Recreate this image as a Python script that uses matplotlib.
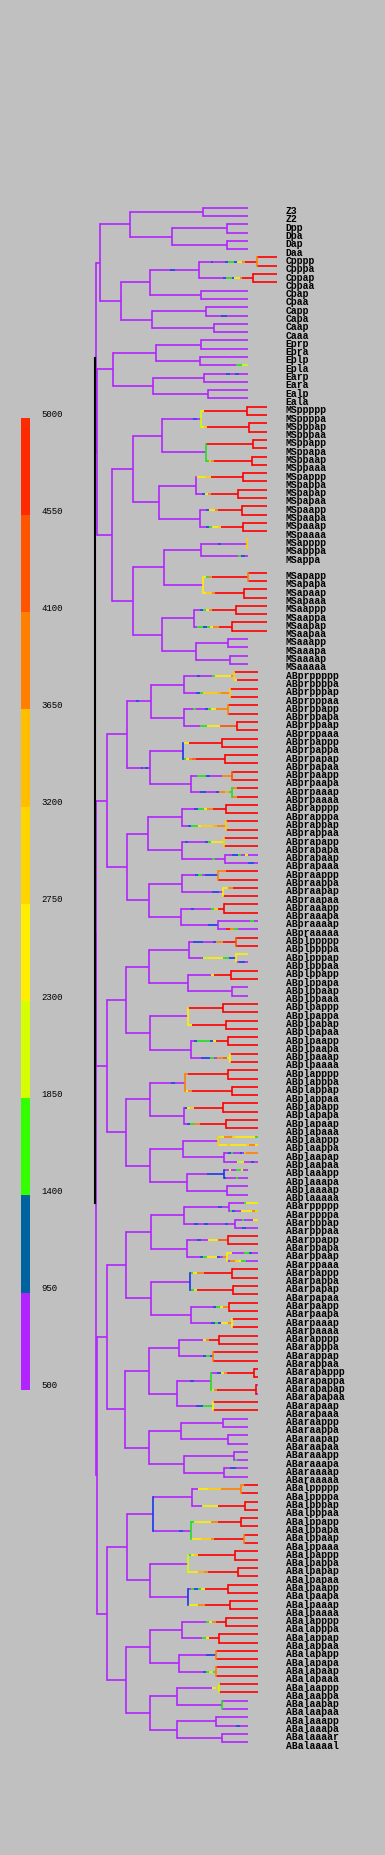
import matplotlib.pyplot as plt
import matplotlib.transforms as mtransforms
import numpy as np
from matplotlib.collections import LineCollection
from matplotlib.colors import BoundaryNorm, ListedColormap

# colour bar: expression scale
bar_bounds = [500, 950, 1400, 1850, 2300, 2750, 3200, 3650, 4100, 4550, 5000]
bar_colors = ['#b124ff', '#00629e', '#33ff00', '#d5ff00', '#ffee00',
              '#ffd500', '#ffbf00', '#ff8000', '#ff5500', '#ff2b00']
# colours drawn on the tree for expression levels 0..9 (same bins as the bar)
tree_colors = ['#b124ff', '#1a36f0', '#22dd22', '#ccff00', '#ffee00',
               '#ffd000', '#ffb000', '#ff8000', '#ff5000', '#ff0000']

# leaves from top to bottom (None = empty row)
leaves = [
    'Z3', 'Z2', 'Dpp', 'Dpa', 'Dap', 'Daa',
    'Cpppp', 'Cpppa', 'Cppap', 'Cppaa', 'Cpap', 'Cpaa', 'Capp', 'Capa', 'Caap', 'Caaa',
    'Eprp', 'Epra', 'Eplp', 'Epla', 'Earp', 'Eara', 'Ealp', 'Eala',
    'MSppppp', 'MSppppa', 'MSpppap', 'MSpppaa', 'MSppapp', 'MSppapa', 'MSppaap', 'MSppaaa',
    'MSpappp', 'MSpappa', 'MSpapap', 'MSpapaa', 'MSpaapp', 'MSpaapa', 'MSpaaap', 'MSpaaaa',
    'MSapppp', 'MSapppa', 'MSappa', None,
    'MSapapp', 'MSapapa', 'MSapaap', 'MSapaaa', 'MSaappp', 'MSaappa', 'MSaapap', 'MSaapaa',
    'MSaaapp', 'MSaaapa', 'MSaaaap', 'MSaaaaa',
    'ABprppppp', 'ABprppppa', 'ABprpppap', 'ABprpppaa', 'ABprppapp', 'ABprppapa', 'ABprppaap', 'ABprppaaa',
    'ABprpappp', 'ABprpappa', 'ABprpapap', 'ABprpapaa', 'ABprpaapp', 'ABprpaapa', 'ABprpaaap', 'ABprpaaaa',
    'ABprapppp', 'ABprapppa', 'ABprappap', 'ABprappaa', 'ABprapapp', 'ABprapapa', 'ABprapaap', 'ABprapaaa',
    'ABpraappp', 'ABpraappa', 'ABpraapap', 'ABpraapaa', 'ABpraaapp', 'ABpraaapa', 'ABpraaaap', 'ABpraaaaa',
    'ABplppppp', 'ABplppppa', 'ABplpppap', 'ABplpppaa', 'ABplppapp', 'ABplppapa', 'ABplppaap', 'ABplppaaa',
    'ABplpappp', 'ABplpappa', 'ABplpapap', 'ABplpapaa', 'ABplpaapp', 'ABplpaapa', 'ABplpaaap', 'ABplpaaaa',
    'ABplapppp', 'ABplapppa', 'ABplappap', 'ABplappaa', 'ABplapapp', 'ABplapapa', 'ABplapaap', 'ABplapaaa',
    'ABplaappp', 'ABplaappa', 'ABplaapap', 'ABplaapaa', 'ABplaaapp', 'ABplaaapa', 'ABplaaaap', 'ABplaaaaa',
    'ABarppppp', 'ABarppppa', 'ABarpppap', 'ABarpppaa', 'ABarppapp', 'ABarppapa', 'ABarppaap', 'ABarppaaa',
    'ABarpappp', 'ABarpappa', 'ABarpapap', 'ABarpapaa', 'ABarpaapp', 'ABarpaapa', 'ABarpaaap', 'ABarpaaaa',
    'ABarapppp', 'ABarapppa', 'ABarappap', 'ABarappaa', 'ABarapappp', 'ABarapappa', 'ABarapapap', 'ABarapapaa',
    'ABarapaap', 'ABarapaaa', 'ABaraappp', 'ABaraappa', 'ABaraapap', 'ABaraapaa', 'ABaraaapp', 'ABaraaapa',
    'ABaraaaap', 'ABaraaaaa',
    'ABalppppp', 'ABalppppa', 'ABalpppap', 'ABalpppaa', 'ABalppapp', 'ABalppapa', 'ABalppaap', 'ABalppaaa',
    'ABalpappp', 'ABalpappa', 'ABalpapap', 'ABalpapaa', 'ABalpaapp', 'ABalpaapa', 'ABalpaaap', 'ABalpaaaa',
    'ABalapppp', 'ABalapppa', 'ABalappap', 'ABalappaa', 'ABalapapp', 'ABalapapa', 'ABalapaap', 'ABalapaaa',
    'ABalaappp', 'ABalaappa', 'ABalaapap', 'ABalaapaa', 'ABalaaapp', 'ABalaaapa', 'ABalaaaar', 'ABalaaaal',
]

# time at which each leaf track ends
leaf_end = ([152.7] * 6 + [181.7] * 4 + [152.7] * 14 + [171.7] * 16
            + [152.7] * 3 + [None] + [171.7] * 8 + [152.7] * 4
            + [162.7] * 34 + [152.7] * 2 + [162.7] * 2 + [152.7] * 2 + [162.7] * 20 + [152.7] * 4
            + [162.7] * 26 + [152.7] * 8
            + [162.7] * 26 + [152.7] * 6)

# expression along each leaf branch, one digit per equal piece (digit = bar bin)
leaf_expr = (['0'] * 6 + ['9'] * 4 + ['0'] * 3 + ['00010000'] + ['0'] * 5
             + ['00000023', '0000010100'] + ['0'] * 3
             + ['9'] * 16 + ['4', '4', '00000000000000002110', None] + ['9'] * 8 + ['0'] * 4
             # ABpr
             + ['9', '49999999'] + ['9'] * 12 + ['79999', '79999'] + ['9'] * 6
             + ['0011204000', '0000000110']
             + ['79999', '9', '4799999', '9', '9', '9', '0000000020', '0097200000']
             # ABpl
             + ['9', '9', '4', '0110', '9', '9', '0', '0'] + ['9'] * 16
             + ['34777544444442', '4445444445774', '001200010677777', '0000340010',
                '0040022400', '1000020000', '0', '0']
             # ABar
             + ['0000024444', '2100444475', '0002000044', '0001100000', '9', '9',
                '44000022100', '07754220000']
             + ['9'] * 14 + ['0', '0', '9', '9'] + ['0'] * 5 + ['20000', '0100', '0']
             # ABal
             + ['79999'] + ['9'] * 25 + ['0'] * 3 + ['00000100', '0', '0'])

# division times of the inner cells
div_time = {
    'P0': 0.0, 'AB': 0.7, 'P1': 1.0, 'ABp': 1.0, 'ABa': 1.7, 'EMS': 1.7, 'P2': 5.0,
    'MS': 16.7, 'E': 17.7, 'C': 25.7, 'P3': 35.0, 'P4': 107.7, 'D': 76.7, 'Dp': 132.3, 'Da': 132.3,
    'Cp': 55.0, 'Ca': 56.7, 'Cpp': 104.0, 'Cpa': 105.7, 'Cppp': 161.7, 'Cppa': 158.3,
    'Cap': 110.7, 'Caa': 118.7,
    'Ep': 61.0, 'Ea': 57.7, 'Epr': 105.7, 'Epl': 104.7, 'Ear': 109.0, 'Eal': 113.0,
    'MSp': 37.7, 'MSa': 37.7, 'MSpp': 66.7, 'MSpa': 64.3, 'MSap': 69.0, 'MSaa': 66.7,
    'MSppp': 105.7, 'MSppa': 110.7, 'MSpap': 101.0, 'MSpaa': 105.0,
    'MSapp': 105.7, 'MSapa': 107.7, 'MSaap': 99.0, 'MSaaa': 101.0,
    'MSpppp': 151.7, 'MSpppa': 154.0, 'MSppap': 157.7, 'MSppaa': 156.7,
    'MSpapp': 147.7, 'MSpapa': 143.3, 'MSpaap': 146.7, 'MSpaaa': 147.7,
    'MSappp': 151.7, 'MSapap': 152.7, 'MSapaa': 149.0, 'MSaapp': 140.7, 'MSaapa': 136.7,
    'MSaaap': 133.3, 'MSaaaa': 135.0,
    'ABpr': 12.3, 'ABpl': 11.7, 'ABar': 11.7, 'ABal': 11.7,
    'ABprp': 31.7, 'ABpra': 31.7, 'ABplp': 31.0, 'ABpla': 30.7,
    'ABarp': 30.7, 'ABara': 30.0, 'ABalp': 31.7, 'ABala': 31.0,
    'ABprpp': 55.7, 'ABprpa': 55.0, 'ABprap': 53.3, 'ABpraa': 53.7,
    'ABplpp': 54.3, 'ABplpa': 55.0, 'ABplap': 55.0, 'ABplaa': 55.0,
    'ABarpp': 55.7, 'ABarpa': 55.7, 'ABarap': 54.0, 'ABaraa': 54.0,
    'ABalpp': 57.7, 'ABalpa': 55.0, 'ABalap': 55.0, 'ABalaa': 55.0,
    'ABprppp': 89.3, 'ABprppa': 89.0, 'ABprpap': 87.7, 'ABprpaa': 95.7,
    'ABprapp': 86.7, 'ABprapa': 86.7, 'ABpraap': 86.7, 'ABpraaa': 85.7,
    'ABplppp': 94.3, 'ABplppa': 92.7, 'ABplpap': 92.7, 'ABplpaa': 95.7,
    'ABplapp': 90.0, 'ABplapa': 89.0, 'ABplaap': 87.7, 'ABplaaa': 91.7,
    'ABarppp': 89.0, 'ABarppa': 91.7, 'ABarpap': 95.0, 'ABarpaa': 95.7,
    'ABarapp': 84.0, 'ABarapa': 81.7, 'ABaraap': 85.7, 'ABaraaa': 89.0,
    'ABalppp': 96.7, 'ABalppa': 95.7, 'ABalpap': 92.7, 'ABalpaa': 92.7,
    'ABalapp': 87.3, 'ABalapa': 84.3, 'ABalaap': 82.3, 'ABalaaa': 82.3,
    'ABprpppp': 139.0, 'ABprpppa': 135.0, 'ABprppap': 133.3, 'ABprppaa': 141.7,
    'ABprpapp': 126.7, 'ABprpapa': 130.0, 'ABprpaap': 136.7, 'ABprpaaa': 136.7,
    'ABprappp': 131.0, 'ABprappa': 131.0, 'ABprapap': 129.3, 'ABprapaa': 130.0,
    'ABpraapp': 123.3, 'ABpraapa': 127.7, 'ABpraaap': 129.3, 'ABpraaaa': 123.3,
    'ABplpppp': 141.0, 'ABplpppa': 141.0, 'ABplppap': 135.7, 'ABplppaa': 136.7,
    'ABplpapp': 128.3, 'ABplpapa': 131.0, 'ABplpaap': 133.3, 'ABplpaaa': 135.0,
    'ABplappp': 133.3, 'ABplappa': 136.7, 'ABplapap': 127.7, 'ABplapaa': 131.0,
    'ABplaapp': 123.3, 'ABplaapa': 129.0, 'ABplaaap': 129.0, 'ABplaaaa': 131.7,
    'ABarpppp': 134.3, 'ABarpppa': 140.0, 'ABarppap': 133.3, 'ABarppaa': 131.7,
    'ABarpapp': 136.7, 'ABarpapa': 137.7, 'ABarpaap': 134.3, 'ABarpaaa': 136.7,
    'ABarappp': 124.3, 'ABarappa': 118.3, 'ABarapap': 115.7, 'ABarapaa': 117.7,
    'ABaraapp': 127.7, 'ABaraapa': 132.7, 'ABaraaap': 139.0, 'ABaraaaa': 129.3,
    'ABalpppp': 146.0, 'ABalpppa': 150.0, 'ABalppap': 146.0, 'ABalppaa': 149.0,
    'ABalpapp': 140.0, 'ABalpapa': 142.7, 'ABalpaap': 133.3, 'ABalpaaa': 135.0,
    'ABalappp': 130.7, 'ABalappa': 124.3, 'ABalapap': 121.0, 'ABalapaa': 121.0,
    'ABalaapp': 124.0, 'ABalaapa': 127.3, 'ABalaaap': 120.7, 'ABalaaaa': 127.3,
    'ABarapapp': 159.0, 'ABarapapa': 161.0,
}

# expression along inner branches (others stay at level 0)
branch_expr = {
    'Cpp': '0000100000', 'Cppp': '00001000012213479999', 'Cppa': '00000000012214479999',
    'MSppp': '0000000010', 'MSpppp': '4999999999999999', 'MSpppa': '4599999999999999',
    'MSppap': '9', 'MSppaa': '2579999999999999', 'MSpapp': '4445599999999999',
    'MSpapa': '00147999999999', 'MSpaap': '00144799999999', 'MSpaaa': '00124459999999',
    'MSappp': '0000001000000000', 'MSapap': '427999999999999', 'MSapaa': '45579999999999',
    'MSaapp': '00124799999999', 'MSaapa': '022124779999',
    'ABprpp': '0000100000', 'ABprpppp': '0000100002444447', 'ABprpppa': '000012555556777',
    'ABprppap': '000200012447777', 'ABprppaa': '0000022444488888', 'ABprpa': '0000001010',
    'ABprpapp': '449999999999', 'ABprpapa': '2478999999999', 'ABprpaap': '0022210000777',
    'ABprpaaa': '0001100017762', 'ABprappp': '00001224779999', 'ABprappa': '00122455556777',
    'ABprapap': '0100000124444', 'ABprapaa': '0000000002000', 'ABpraapp': '00001201111',
    'ABpraapa': '000000000110', 'ABpraaap': '0001000002599', 'ABpraaaa': '00000000111',
    'ABplpppp': '01110001779999', 'ABplpppa': '00003344442211', 'ABplppap': '0000000499999',
    'ABplpapp': '9', 'ABplpapa': '49999999', 'ABplpaap': '012222149999',
    'ABplpaaa': '000111207783', 'ABplapp': '0000001000', 'ABplappp': '79999999999999',
    'ABplappa': '47999999999999', 'ABplapap': '145999999999', 'ABplapaa': '0127799999999',
    'ABplaaap': '00000011111',
    'ABarpppp': '000000000100', 'ABarpppa': '000100100000100', 'ABarppap': '000100444888',
    'ABarppaa': '000012444107', 'ABarpapp': '247799999999', 'ABarpapa': '239999999999',
    'ABarpaap': '000000012477', 'ABarpaaa': '000000121447', 'ABarappp': '000000047999',
    'ABarappa': '0000000121', 'ABarapap': '0000100000', 'ABarapapp': '0014799999999',
    'ABarapapa': '37999999999999', 'ABarapaa': '00000011222',
    'ABalpppp': '004445555777777', 'ABalpppa': '0003444499999999', 'ABalppa': '0000000100',
    'ABalppap': '234444779999999', 'ABalppaa': '4445557999999999', 'ABalpapp': '24599999999999',
    'ABalpapa': '444667999999999', 'ABalpaap': '021249999999', 'ABalpaaa': '444779999999',
    'ABalappp': '0000000247999', 'ABalappa': '00000024999', 'ABalapap': '00000000111',
    'ABalapaa': '00000001232', 'ABalaapp': '000000000045',
}

# expression level at each division (vertical bar)
split_expr = {
    'Cppp': '7', 'Cppa': '9',
    'MSppp': '3', 'MSpppp': '9', 'MSpppa': '9', 'MSppa': '2', 'MSppap': '9', 'MSppaa': '9',
    'MSpapp': '9', 'MSpapa': '9', 'MSpaap': '9', 'MSpaaa': '9', 'MSappp': '5', 'MSapa': '4',
    'MSapap': '7', 'MSapaa': '9', 'MSaapp': '9', 'MSaapa': '9',
    'ABprpppp': '5', 'ABprpppa': '5', 'ABprppap': '7', 'ABprppaa': '9', 'ABprpap': '1',
    'ABprpapp': '9', 'ABprpapa': '9', 'ABprpaap': '8', 'ABprpaaa': '2', 'ABprappp': '9',
    'ABprappa': '5', 'ABprapap': '5', 'ABpraapp': '7', 'ABpraapa': '4', 'ABpraaap': '9',
    'ABplpppp': '8', 'ABplpppa': '4', 'ABplppap': '9', 'ABplpap': '4', 'ABplpapp': '9',
    'ABplpapa': '9', 'ABplpaap': '9', 'ABplpaaa': '4', 'ABplapp': '7', 'ABplappp': '9',
    'ABplappa': '9', 'ABplapap': '9', 'ABplapaa': '9', 'ABplaapp': '5', 'ABplaaap': '1',
    'ABarppap': '9', 'ABarppaa': '4', 'ABarpap': '1', 'ABarpapp': '9', 'ABarpapa': '9',
    'ABarpaap': '9', 'ABarpaaa': '4', 'ABarappp': '9', 'ABarappa': '7', 'ABarapap': '2',
    'ABarapapp': '9', 'ABarapapa': '9', 'ABarapaa': '4',
    'ABalpp': '1', 'ABalpppp': '7', 'ABalpppa': '9', 'ABalppa': '2', 'ABalppap': '9',
    'ABalppaa': '7', 'ABalpap': '3', 'ABalpapp': '9', 'ABalpapa': '9', 'ABalpaa': '1',
    'ABalpaap': '9', 'ABalpaaa': '9', 'ABalappp': '9', 'ABalappa': '9', 'ABalapap': '7',
    'ABalapaa': '7', 'ABalaapp': '3', 'ABalaapa': '2',
}

founders = {'AB': 'P0', 'P1': 'P0', 'EMS': 'P1', 'P2': 'P1', 'MS': 'EMS', 'E': 'EMS',
            'C': 'P2', 'P3': 'P2', 'D': 'P3', 'P4': 'P3', 'Z3': 'P4', 'Z2': 'P4'}


def parent(c):
    return founders.get(c, c[:-1])


fig = plt.figure(figsize=(3.85, 18.55), dpi=100, facecolor='#c0c0c0')
ax = fig.add_axes([0, 0, 1, 1])
ax.set_xlim(-95, 290)
ax.set_ylim(198.61, -25.04)
ax.axis('off')

time = dict(div_time)
expr = dict(branch_expr)
row = {}
kids = {}
for i, (name, end, ex) in enumerate(zip(leaves, leaf_end, leaf_expr)):
    if name is None:
        continue
    row[name] = i
    time[name] = end
    expr[name] = ex
    c = name
    while c != 'P0':
        p = parent(c)
        kids.setdefault(p, [])
        if c not in kids[p]:
            kids[p].append(c)
        c = p


def place(c):
    if c not in row:
        ys = [place(k) for k in kids[c]]
        row[c] = (ys[0] + ys[-1]) / 2
    return row[c]


place('P0')

# horizontal branches, coloured piece by piece
hsegs, hcols = [], []
for c in row:
    if c == 'P0':
        continue
    codes = expr.get(c, '0')
    xs = np.linspace(time[parent(c)], time[c], len(codes) + 1)
    for k, ch in enumerate(codes):
        hsegs.append([(xs[k], row[c]), (xs[k + 1], row[c])])
        hcols.append(tree_colors[int(ch)])
ax.add_collection(LineCollection(hsegs, colors=hcols, linewidths=1.2, capstyle='butt'))

# vertical bars at divisions
vsegs, vcols = [], []
for c, ks in kids.items():
    if c == 'P0':
        continue
    vsegs.append([(time[c], row[ks[0]]), (time[c], row[ks[-1]])])
    vcols.append(tree_colors[int(split_expr.get(c, '0'))])
ax.add_collection(LineCollection(vsegs, colors=vcols, linewidths=1.2, capstyle='projecting'))
ax.plot([time['P0'], time['P0']], [row['P1'], row['AB']], color='black', lw=1.5,
        solid_capstyle='butt')

for i, name in enumerate(leaves):
    if name:
        ax.text(190.7, i + 0.78, name, fontsize=7, family='Liberation Mono',
                fontweight='bold', va='baseline', ha='left', color='black')

# colour bar
cax = fig.add_axes([21 / 385, 1 - 1389.8 / 1855, 9 / 385, 971.9 / 1855])
mids = np.array(bar_bounds[:-1]) + 1
cax.pcolormesh([0, 1], bar_bounds, mids.reshape(-1, 1),
               cmap=ListedColormap(bar_colors), norm=BoundaryNorm(bar_bounds, len(bar_colors)))
cax.set_xlim(0, 1)
cax.set_ylim(500, 5000)
cax.axis('off')
trans = mtransforms.blended_transform_factory(cax.transAxes, cax.transData)
for v in bar_bounds:
    cax.text(20 / 9, v + 18, str(v), transform=trans, fontsize=6.5,
             family='Liberation Mono', va='center', ha='left', color='black')

fig.savefig('out.png', dpi=100, facecolor=fig.get_facecolor())
